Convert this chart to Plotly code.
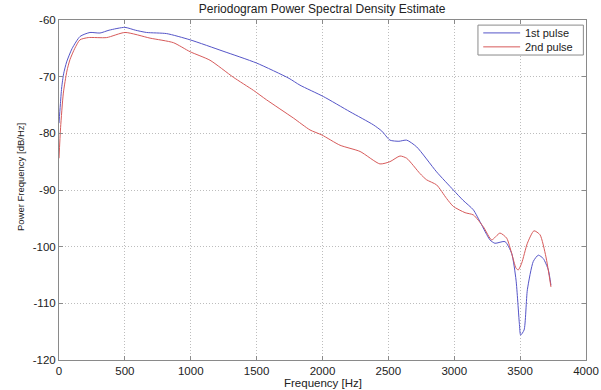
import plotly.graph_objects as go

# 1st pulse
f1 = [0, 10, 20, 35, 58, 100, 160, 235, 311, 380, 500, 580, 665, 817, 995, 1245, 1500, 1746,
      1829, 2006, 2209, 2386, 2450, 2512, 2580, 2639, 2715, 2866, 2993, 3066, 3145, 3200,
      3271, 3309, 3385, 3436, 3469, 3494, 3504, 3530, 3555, 3600, 3638, 3676, 3714, 3734]
p1 = [-78.2, -75.0, -72.0, -69.5, -67.4, -65.0, -62.9, -62.2, -62.3, -61.8, -61.3, -61.8,
      -62.2, -62.4, -63.5, -65.5, -67.6, -70.3, -71.5, -73.5, -76.2, -78.5, -79.6, -81.2,
      -81.4, -81.2, -82.4, -86.8, -90.0, -91.8, -93.5, -95.8, -98.8, -99.4, -99.1, -101.2,
      -105.9, -113.5, -115.6, -114.7, -107.6, -102.6, -101.5, -102.1, -104.1, -106.8]

# 2nd pulse
f2 = [0, 12, 33, 60, 83, 120, 159, 222, 362, 501, 691, 868, 995, 1146, 1323, 1475, 1576,
      1779, 1905, 1996, 2133, 2285, 2436, 2512, 2588, 2639, 2740, 2790, 2866, 2942, 2993,
      3082, 3145, 3221, 3284, 3347, 3398, 3436, 3469, 3486, 3512, 3555, 3605, 3651, 3696, 3734]
p2 = [-84.4, -79.0, -72.9, -69.0, -67.0, -65.0, -63.5, -63.1, -63.1, -62.2, -63.2, -64.0,
      -65.6, -67.1, -70.1, -72.4, -74.1, -77.3, -79.4, -80.3, -82.1, -83.2, -85.4, -85.0,
      -84.0, -84.4, -87.1, -88.2, -89.1, -91.5, -92.9, -94.0, -94.4, -96.5, -98.8, -97.6,
      -98.5, -101.2, -103.8, -104.1, -102.9, -99.4, -97.2, -97.9, -101.8, -107.1]

names = ["1st pulse", "2nd pulse"]
colors = ["rgb(85,85,200)", "rgb(215,90,90)"]
x_ticks = [0, 500, 1000, 1500, 2000, 2500, 3000, 3500, 4000]
y_ticks = [-60, -70, -80, -90, -100, -110, -120]

FONT = "Liberation Sans, Arial"

fig = go.Figure()
for fx, py, nm, col in [(f1, p1, names[0], colors[0]), (f2, p2, names[1], colors[1])]:
    fig.add_trace(go.Scatter(x=fx, y=py, mode="lines", name=nm, showlegend=False,
                             line=dict(color=col, width=1, shape="spline", smoothing=0.6)))

axis_common = dict(showline=True, linecolor="#8a8a8a", linewidth=1, mirror="allticks",
                   ticks="inside", ticklen=4, tickcolor="#8a8a8a", automargin=False,
                   showgrid=True, gridcolor="#bdbdbd", griddash="1px,2px", gridwidth=1,
                   zeroline=False, tickfont=dict(family=FONT, size=11.5, color="#222"))

fig.update_xaxes(range=[0, 4000], tickvals=x_ticks, ticktext=[str(v) for v in x_ticks],
                 **axis_common)
fig.update_yaxes(range=[-120, -60], tickvals=y_ticks, ticktext=[str(v) for v in y_ticks],
                 **axis_common)

# axis labels
fig.add_annotation(text="Frequency [Hz]", xref="paper", yref="paper",
                   x=0.5, y=0, xanchor="center", yanchor="middle", yshift=-23,
                   showarrow=False, borderpad=0,
                   font=dict(family=FONT, size=11.5, color="#222"))
fig.add_annotation(text="Power Frequency [dB/Hz]", xref="paper", yref="paper",
                   x=0, y=0.538, xanchor="center", yanchor="middle", xshift=-39,
                   textangle=-90, showarrow=False,
                   font=dict(family=FONT, size=9.5, color="#222"))

# custom legend box
fig.add_shape(type="rect", xref="paper", yref="paper", x0=0.795, x1=0.995, y0=0.897, y1=0.985,
              line=dict(color="#8a8a8a", width=1), fillcolor="white", layer="above")
for i, col in enumerate(colors):
    yy = 0.962 - i * 0.041
    fig.add_shape(type="line", xref="paper", yref="paper", x0=0.805, x1=0.875, y0=yy, y1=yy,
                  line=dict(color=col, width=1), layer="above")
fig.add_annotation(text="<br>".join(names), xref="paper", yref="paper", x=0.880, y=0.941,
                   xanchor="left", yanchor="middle", align="left", showarrow=False,
                   font=dict(family=FONT, size=11, color="#222"))

fig.update_layout(
    width=601, height=390,
    margin=dict(l=59, r=15, t=20, b=30, autoexpand=False),
    paper_bgcolor="white", plot_bgcolor="white",
    title=dict(text="Periodogram Power Spectral Density Estimate", x=0.536, xanchor="center",
               y=0.977, yanchor="middle",
               font=dict(family=FONT, size=12, color="#222")),
    showlegend=False,
)

fig.write_html("out.html")
